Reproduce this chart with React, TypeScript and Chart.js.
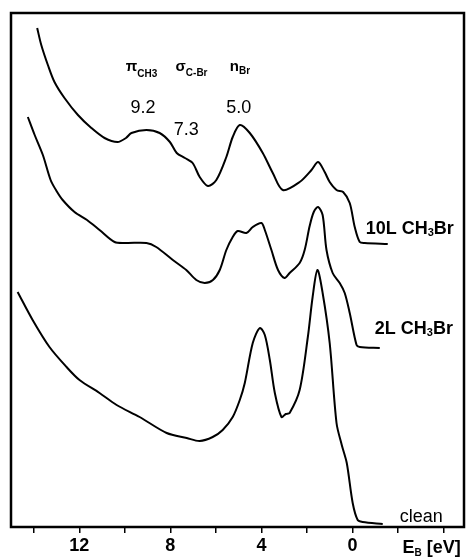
import React, { useEffect, useRef } from "react";
import { Chart, registerables } from "chart.js";

Chart.register(...registerables);

// Binding energy (eV) and intensity (arb. units)
const energies10L = [13.85, 13.67, 13.38, 13.09, 12.65, 12.06, 11.47, 10.89, 10.32, 9.95, 9.71, 9.05, 8.47, 8.02, 7.72, 7.36, 7.02, 6.71, 6.35, 5.98, 5.54, 5.26, 4.95, 4.51, 3.94, 3.5, 3.06, 2.32, 1.8, 1.51, 1.22, 1.0, 0.7, 0.41, 0.12, -0.1, -0.32, -0.54, -1.55];
const intensity10L = [499, 482, 462, 445, 429, 412, 399, 389, 385, 389, 394, 397, 394, 385, 374, 369, 364, 350, 341, 347, 370, 390, 402, 394, 374, 354, 337, 345, 357, 365, 355, 345, 337, 335, 324, 300, 285, 284, 283];

const energies2L = [14.26, 13.96, 13.6, 13.26, 13.0, 12.73, 12.21, 11.66, 11.11, 10.45, 9.93, 9.05, 8.62, 7.89, 7.3, 6.86, 6.49, 6.13, 5.83, 5.54, 5.26, 5.04, 4.66, 4.38, 4.0, 3.85, 3.56, 3.27, 2.98, 2.76, 2.32, 2.1, 1.88, 1.7, 1.51, 1.31, 1.14, 0.87, 0.56, 0.34, 0.12, -0.18, -0.32, -1.2];
const intensity2L = [410, 392, 372, 347, 336, 327, 315, 307, 297, 285, 284, 284, 280, 267, 257, 247, 244, 247, 257, 277, 290, 296, 294, 300, 304, 297, 277, 257, 249, 254, 264, 277, 301, 315, 320, 312, 277, 254, 244, 234, 214, 182, 180, 179];

const energiesClean = [14.71, 14.05, 13.31, 12.56, 11.99, 11.11, 10.36, 9.35, 8.16, 7.28, 6.71, 6.14, 5.7, 5.26, 4.95, 4.73, 4.38, 4.07, 3.85, 3.63, 3.41, 3.12, 2.93, 2.76, 2.32, 1.96, 1.75, 1.54, 1.31, 1.0, 0.7, 0.47, 0.25, -0.01, -0.23, -0.45, -1.33];
const intensityClean = [235, 207, 180, 160, 147, 134, 122, 110, 94, 89, 86, 90, 97, 110, 127, 144, 184, 199, 192, 167, 134, 110, 113, 114, 137, 190, 230, 257, 234, 184, 104, 82, 64, 24, 7, 5, 3];

const tickValues = [14, 12, 10, 8, 6, 4, 2, 0, -2, -4];
const labeledTicks = [12, 8, 4, 0];

const peakValues = ["9.2", "7.3", "5.0"];
const peakEnergies = [9.2, 7.3, 5.0];

const FONT = "'Liberation Sans', Arial, sans-serif";

function toPoints(xs: number[], ys: number[]) {
  return xs.map((x, i) => ({ x, y: ys[i] }));
}

function drawSub(
  ctx: CanvasRenderingContext2D,
  x: number,
  y: number,
  parts: [string, boolean][],
  size: number,
  subSize: number,
  subDrop: number
) {
  let cx = x;
  for (const [t, sub] of parts) {
    ctx.font = `bold ${sub ? subSize : size}px ${FONT}`;
    ctx.fillText(t, cx, sub ? y + subDrop : y);
    cx += ctx.measureText(t).width;
  }
}

const annotPlugin = {
  id: "annot",
  afterDraw(chart: any) {
    const { ctx, chartArea, scales } = chart;
    const xs = scales.x;
    const ys = scales.y;
    ctx.save();
    // frame
    ctx.strokeStyle = "#000";
    ctx.lineWidth = 2.5;
    ctx.strokeRect(chartArea.left, chartArea.top, chartArea.right - chartArea.left, chartArea.bottom - chartArea.top);

    ctx.fillStyle = "#000";
    ctx.textBaseline = "alphabetic";
    ctx.textAlign = "left";
    // orbital labels
    drawSub(ctx, xs.getPixelForValue(9.96), ys.getPixelForValue(456), [["π", false], ["CH", true], ["3", true]], 15, 10, 6);
    drawSub(ctx, xs.getPixelForValue(7.77), ys.getPixelForValue(456), [["σ", false], ["C-Br", true]], 15, 10, 5);
    drawSub(ctx, xs.getPixelForValue(5.39), ys.getPixelForValue(456), [["n", false], ["Br", true]], 15, 10, 3);

    // peak values
    ctx.font = `18px ${FONT}`;
    ctx.textAlign = "center";
    const peakY = [414, 392, 414];
    peakValues.forEach((t, i) => {
      ctx.fillText(t, xs.getPixelForValue(peakEnergies[i]), ys.getPixelForValue(peakY[i]));
    });

    // curve labels
    ctx.textAlign = "left";
    drawSub(ctx, xs.getPixelForValue(-0.58), ys.getPixelForValue(293), [["10L CH", false], ["3", true], ["Br", false]], 18, 11, 2);
    drawSub(ctx, xs.getPixelForValue(-0.98), ys.getPixelForValue(193), [["2L CH", false], ["3", true], ["Br", false]], 18, 11, 2);
    ctx.font = `18px ${FONT}`;
    ctx.fillText("clean", xs.getPixelForValue(-2.08), ys.getPixelForValue(5));

    // axis title
    drawSub(ctx, xs.getPixelForValue(-2.2), chartArea.bottom + 26, [["E", false], ["B", true], [" [eV]", false]], 18, 10, 3);
    ctx.restore();
  },
};

export default function App() {
  const ref = useRef<HTMLCanvasElement | null>(null);
  useEffect(() => {
    document.body.style.margin = "0";
    const ds = (xs: number[], ys: number[]) => ({
      data: toPoints(xs, ys),
      borderColor: "#000",
      borderWidth: 2,
      pointRadius: 0,
      tension: 0.3,
      fill: false,
    });
    const chart = new Chart(ref.current as HTMLCanvasElement, {
      type: "line",
      data: {
        datasets: [
          ds(energies10L, intensity10L),
          ds(energies2L, intensity2L),
          ds(energiesClean, intensityClean),
        ],
      },
      options: {
        animation: false,
        responsive: true,
        maintainAspectRatio: false,
        layout: { padding: { left: 11, top: 13, right: 2, bottom: 0 } },
        plugins: { legend: { display: false }, tooltip: { enabled: false } },
        scales: {
          x: {
            type: "linear",
            reverse: true,
            min: -4.9,
            max: 15,
            afterBuildTicks: (s: any) => {
              s.ticks = tickValues.map((v) => ({ value: v }));
            },
            afterFit: (s: any) => {
              s.height = 30;
            },
            ticks: {
              autoSkip: false,
              maxRotation: 0,
              padding: 2,
              color: "#000",
              font: { size: 18, family: FONT, weight: "bold" },
              callback: (v: any) => (labeledTicks.includes(Number(v)) ? String(v) : ""),
            },
            grid: { drawOnChartArea: false, drawTicks: true, tickLength: 6, color: "#000", lineWidth: 1.5 },
            border: { display: false },
          },
          y: { display: false, min: 0, max: 514 },
        },
      },
      plugins: [annotPlugin],
    } as any);
    return () => chart.destroy();
  }, []);
  return (
    <div style={{ position: "absolute", left: 0, top: 0, width: 466, height: 557 }}>
      <canvas ref={ref} />
    </div>
  );
}
